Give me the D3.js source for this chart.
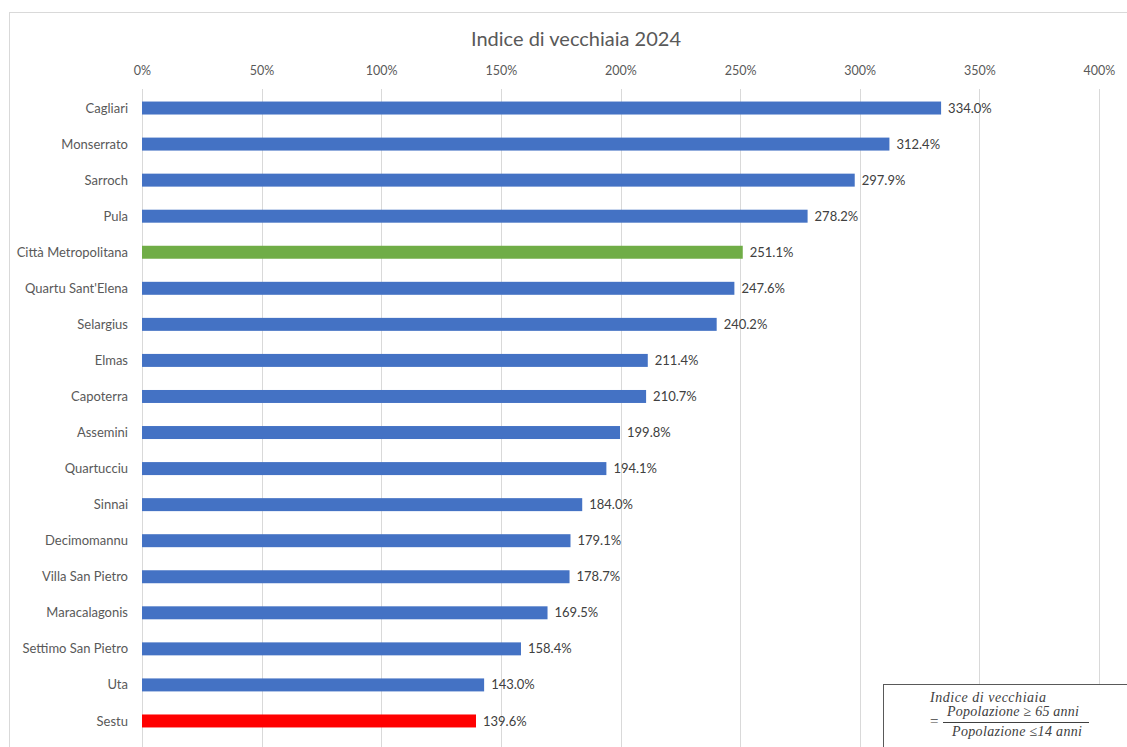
<!DOCTYPE html>
<html>
<head>
<meta charset="utf-8">
<script src="https://cdn.jsdelivr.net/npm/d3@7"></script>
<style>
  html, body { margin: 0; padding: 0; background: #fff; }
  svg { display: block; }
</style>
</head>
<body>
<svg id="chart" width="1127" height="747"></svg>
<script>
// Comuni della Città Metropolitana di Cagliari, ordered by index
const categories = [
  "Cagliari", "Monserrato", "Sarroch", "Pula", "Città Metropolitana",
  "Quartu Sant'Elena", "Selargius", "Elmas", "Capoterra", "Assemini",
  "Quartucciu", "Sinnai", "Decimomannu", "Villa San Pietro",
  "Maracalagonis", "Settimo San Pietro", "Uta", "Sestu"
];
// Indice di vecchiaia 2024 (%)
const values = [
  334.0, 312.4, 297.9, 278.2, 251.1,
  247.6, 240.2, 211.4, 210.7, 199.8,
  194.1, 184.0, 179.1, 178.7,
  169.5, 158.4, 143.0, 139.6
];
const tickValues = [0, 50, 100, 150, 200, 250, 300, 350, 400];
const highlightTotal = "Città Metropolitana";
const highlightFocus = "Sestu";

const svg = d3.select("#chart");
const font = "Lato, 'Liberation Sans', sans-serif";
const textColor = "#595959";

// chart frame
svg.append("rect")
  .attr("x", 9.5).attr("y", 12.5)
  .attr("width", 1130).attr("height", 760)
  .attr("fill", "#fff").attr("stroke", "#D9D9D9").attr("stroke-width", 1);

svg.append("text")
  .attr("x", 576).attr("y", 46)
  .attr("text-anchor", "middle")
  .attr("font-family", font).attr("font-size", 20)
  .attr("fill", textColor)
  .text("Indice di vecchiaia 2024");

const x = d3.scaleLinear().domain([0, 400]).range([142, 1099]);
const y = d3.scaleBand().domain(categories).range([90, 739]).paddingInner(0.64).paddingOuter(0.32);

// vertical gridlines
svg.append("g").selectAll("line")
  .data(tickValues)
  .join("line")
  .attr("x1", d => Math.round(x(d)) + 0.5).attr("x2", d => Math.round(x(d)) + 0.5)
  .attr("y1", 89).attr("y2", 747)
  .attr("stroke", "#D9D9D9").attr("stroke-width", 1);

// top axis labels
const axis = svg.append("g")
  .attr("transform", "translate(0,89)")
  .call(d3.axisTop(x).tickValues(tickValues).tickFormat(d => d + "%").tickSize(0).tickPadding(14));
axis.select(".domain").remove();
axis.selectAll("text")
  .attr("font-family", font).attr("font-size", 12.5).attr("fill", textColor);

// bars
const colorFor = c => c === highlightTotal ? "#70AD47" : (c === highlightFocus ? "#FF0000" : "#4472C4");
svg.append("g").selectAll("rect")
  .data(categories)
  .join("rect")
  .attr("x", x(0))
  .attr("y", d => y(d))
  .attr("width", (d, i) => x(values[i]) - x(0))
  .attr("height", y.bandwidth())
  .attr("fill", d => colorFor(d));

// category labels
svg.append("g").selectAll("text")
  .data(categories)
  .join("text")
  .attr("x", 128)
  .attr("y", d => y(d) + y.bandwidth() / 2)
  .attr("dy", "0.35em")
  .attr("text-anchor", "end")
  .attr("font-family", font).attr("font-size", 13).attr("fill", textColor)
  .text(d => d);

// value labels
svg.append("g").selectAll("text")
  .data(categories)
  .join("text")
  .attr("x", (d, i) => x(values[i]) + 7)
  .attr("y", d => y(d) + y.bandwidth() / 2)
  .attr("dy", "0.35em")
  .attr("font-family", font).attr("font-size", 13).attr("fill", "#404040")
  .text((d, i) => values[i].toFixed(1) + "%");

// formula box
const fg = svg.append("g");
fg.append("rect")
  .attr("x", 883.5).attr("y", 684.5)
  .attr("width", 260).attr("height", 80)
  .attr("fill", "#fff").attr("stroke", "#595959").attr("stroke-width", 1);
const serif = "'Liberation Serif', 'DejaVu Serif', serif";
const ink = "#404040";
fg.append("text")
  .attr("x", 930).attr("y", 702)
  .attr("font-family", serif).attr("font-style", "italic")
  .attr("font-size", 14).attr("fill", ink)
  .attr("textLength", 116).attr("lengthAdjust", "spacing")
  .text("Indice di vecchiaia");
fg.append("text")
  .attr("x", 930).attr("y", 726)
  .attr("font-family", serif)
  .attr("font-size", 15).attr("fill", ink)
  .text("=");
fg.append("line")
  .attr("x1", 943).attr("x2", 1089)
  .attr("y1", 722.5).attr("y2", 722.5)
  .attr("stroke", ink).attr("stroke-width", 1);
fg.append("text")
  .attr("x", 947).attr("y", 716)
  .attr("font-family", serif).attr("font-style", "italic")
  .attr("font-size", 14).attr("fill", ink)
  .attr("textLength", 132).attr("lengthAdjust", "spacing")
  .text("Popolazione  ≥ 65 anni");
fg.append("text")
  .attr("x", 952).attr("y", 736)
  .attr("font-family", serif).attr("font-style", "italic")
  .attr("font-size", 14).attr("fill", ink)
  .attr("textLength", 130).attr("lengthAdjust", "spacing")
  .text("Popolazione ≤14 anni");
</script>
</body>
</html>
